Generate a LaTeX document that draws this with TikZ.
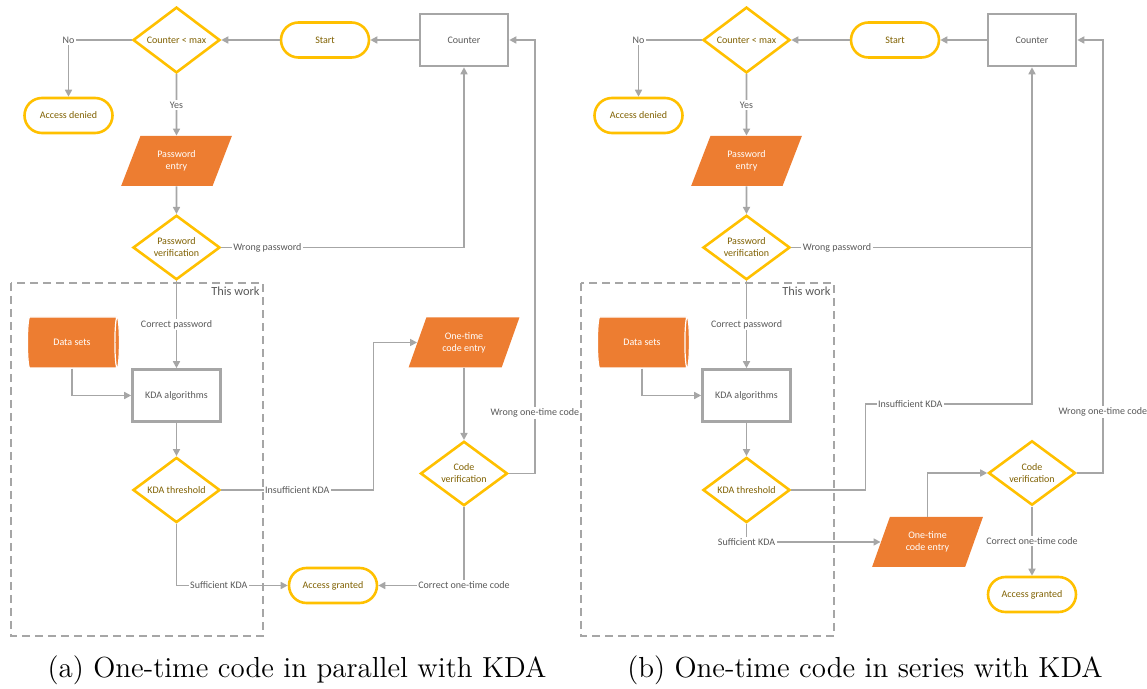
\documentclass[tikz,border=0pt]{standalone}
\usepackage{fontspec}
\newfontfamily\calibri{Carlito}
\usepackage{xcolor}
\usepackage{tikz}
\usetikzlibrary{positioning, arrows.meta, shapes.geometric, shapes.misc}

\definecolor{flowgold}{HTML}{FFC000}
\definecolor{flowtext}{HTML}{7F6000}
\definecolor{flowfill}{HTML}{ED7D31}
\definecolor{flowline}{HTML}{A6A6A6}
\definecolor{flowlabel}{HTML}{595959}

\begin{document}
\begin{tikzpicture}[x=0.5pt, y=-0.5pt, node distance=20pt and 20pt, on grid]

	% Styles
	\tikzset{
		terminal/.style={
			rounded rectangle, draw=flowgold, line width=1.3pt,
			minimum width=44pt, minimum height=17.5pt, inner sep=0pt,
			font=\calibri\fontsize{5}{6}\selectfont, text=flowtext
		},
		decision/.style={
			diamond, draw=flowgold, line width=1.3pt,
			minimum width=43.5pt, minimum height=26pt, inner sep=0pt,
			align=center, font=\calibri\fontsize{5}{6}\selectfont, text=flowtext
		},
		process/.style={
			rectangle, draw=flowline, line width=1.3pt,
			minimum width=44pt, minimum height=26pt,
			font=\calibri\fontsize{5}{6}\selectfont, text=flowlabel
		},
		inout/.style={
			trapezium, trapezium left angle=63.4, trapezium right angle=116.6,
			trapezium stretches=true, fill=flowfill,
			minimum width=55.5pt, minimum height=25pt, inner sep=0pt,
			align=center, font=\calibri\fontsize{5}{6}\selectfont, text=white
		},
		storage/.style={
			cylinder, shape aspect=0.7, fill=flowfill, draw=white, line width=0.6pt,
			minimum width=25.5pt, minimum height=46pt, inner sep=0pt,
			font=\calibri\fontsize{5}{6}\selectfont, text=white
		},
		arrow/.style={draw=flowline, line width=0.8pt, -{Triangle[length=3.5pt, width=3.5pt]}},
		link/.style={draw=flowline, line width=0.8pt},
		lbl/.style={fill=white, inner sep=0.8pt, font=\calibri\fontsize{5}{6}\selectfont, text=flowlabel},
		workbox/.style={draw=flowline, line width=0.7pt, dash pattern=on 4pt off 2.5pt},
		worktag/.style={anchor=north east, inner sep=1.5pt, font=\calibri\fontsize{6.2}{7}\selectfont, text=flowlabel},
		caption/.style={font=\fontsize{14.5}{17}\selectfont}
	}

	\useasboundingbox (0,0) rectangle (1147,689);

	% ---------- (a) parallel ----------

	% Login loop
	\node (cmax) [decision] at (176.5,40) {Counter < max};
	\node (start) [terminal, right=74.25pt of cmax] {Start};
	\node (counter) [process, right=69.5pt of start] {Counter};
	\node (denied) [terminal, below left=37.75pt and 54pt of cmax] {Access denied};
	\node (pwentry) [inout, below=60.5pt of cmax] {Password\\entry};
	\node (pwver) [decision, below=43.25pt of pwentry] {Password\\verification};

	% KDA part
	\node (kda) [process, below=74pt of pwver] {KDA algorithms};
	\node (data) [storage, above left=26.5pt and 52.25pt of kda] {Data sets};
	\node (kdath) [decision, below=47.25pt of kda] {KDA threshold};

	% One-time code
	\node (otc) [inout, below=151.25pt of counter] {One-time\\code entry};
	\node (codever) [decision, below=65.5pt of otc] {Code\\verification};
	\node (granted) [terminal, below right=47.75pt and 78.25pt of kdath] {Access granted};

	\coordinate (insA) at ([xshift=76pt]kdath.east);
	\coordinate (wrongA) at ([xshift=13pt]codever.east);

	% Arrows
	\draw[arrow] (counter.west) -- (start.east);
	\draw[arrow] (start.west) -- (cmax.east);
	\draw[arrow] (cmax.west) -| node[lbl, pos=0.5] {No} (denied.north);
	\draw[arrow] (cmax.south) -- node[lbl] {Yes} (pwentry.north);
	\draw[arrow] (pwentry.south) -- (pwver.north);
	\draw[arrow] (pwver.east) -- node[lbl, pos=0.19] {Wrong password} (pwver.east -| counter.south) -- (counter.south);
	\draw[arrow] (pwver.south) -- node[lbl] {Correct password} (kda.north);
	\draw[arrow] (data.south) |- (kda.west);
	\draw[arrow] (kda.south) -- (kdath.north);
	\draw[arrow] (kdath.east) -- node[lbl] {Insufficient KDA} (insA) |- (otc.west);
	\draw[arrow] (kdath.south) |- node[lbl, pos=0.69] {Sufficient KDA} (granted.west);
	\draw[arrow] (otc.south) -- (codever.north);
	\draw[arrow] (codever.east) -- (wrongA) |- node[lbl, pos=0.07] {Wrong one-time code} (counter.east);
	\draw[arrow] (codever.south) |- node[lbl, pos=0.5] {Correct one-time code} (granted.east);

	% This work
	\draw[workbox] (11,283) rectangle (263,636);
	\node (workA) [worktag] at (263,283) {This work};

	% ---------- (b) series ----------

	% Login loop
	\node (cmaxB) [decision, right=285pt of cmax] {Counter < max};
	\node (startB) [terminal, right=74.25pt of cmaxB] {Start};
	\node (counterB) [process, right=68.5pt of startB] {Counter};
	\node (deniedB) [terminal, below left=37.75pt and 54pt of cmaxB] {Access denied};
	\node (pwentryB) [inout, below=60.5pt of cmaxB] {Password\\entry};
	\node (pwverB) [decision, below=43.25pt of pwentryB] {Password\\verification};

	% KDA part
	\node (kdaB) [process, below=74pt of pwverB] {KDA algorithms};
	\node (dataB) [storage, above left=26.5pt and 52.25pt of kdaB] {Data sets};
	\node (kdathB) [decision, below=47.25pt of kdaB] {KDA threshold};

	% One-time code
	\node (otcB) [inout, below right=26pt and 90.5pt of kdathB] {One-time\\code entry};
	\node (codeverB) [decision, below=216.5pt of counterB] {Code\\verification};
	\node (grantedB) [terminal, below=60.75pt of codeverB] {Access granted};

	\coordinate (insB) at ([xshift=37pt]kdathB.east);
	\coordinate (insB2) at ([yshift=43pt]insB);
	\coordinate (wrongB) at ([xshift=13pt]codeverB.east);

	% Arrows
	\draw[arrow] (counterB.west) -- (startB.east);
	\draw[arrow] (startB.west) -- (cmaxB.east);
	\draw[arrow] (cmaxB.west) -| node[lbl, pos=0.5] {No} (deniedB.north);
	\draw[arrow] (cmaxB.south) -- node[lbl] {Yes} (pwentryB.north);
	\draw[arrow] (pwentryB.south) -- (pwverB.north);
	\draw[link] (pwverB.east) -- node[lbl, pos=0.19] {Wrong password} (pwverB.east -| counterB.south);
	\draw[arrow] (pwverB.south) -- node[lbl] {Correct password} (kdaB.north);
	\draw[arrow] (dataB.south) |- (kdaB.west);
	\draw[arrow] (kdaB.south) -- (kdathB.north);
	\draw[arrow] (kdathB.east) -- (insB) -- (insB2) -- node[lbl, pos=0.27] {Insufficient KDA} (insB2 -| counterB.south) -- (counterB.south);
	\draw[arrow] (kdathB.south) |- node[lbl, pos=0.5] {Sufficient KDA} (otcB.west);
	\draw[arrow] (otcB.north) |- (codeverB.west);
	\draw[arrow] (codeverB.east) -- (wrongB) |- node[lbl, pos=0.07] {Wrong one-time code} (counterB.east);
	\draw[arrow] (codeverB.south) -- node[lbl] {Correct one-time code} (grantedB.north);

	% This work
	\draw[workbox] (581,283) rectangle (834,636);
	\node (workB) [worktag] at (834,283) {This work};

	% Captions
	\node (capA) [caption] at (297,670) {(a) One-time code in parallel with KDA};
	\node (capB) [caption] at (865,670) {(b) One-time code in series with KDA};

\end{tikzpicture}
\end{document}
